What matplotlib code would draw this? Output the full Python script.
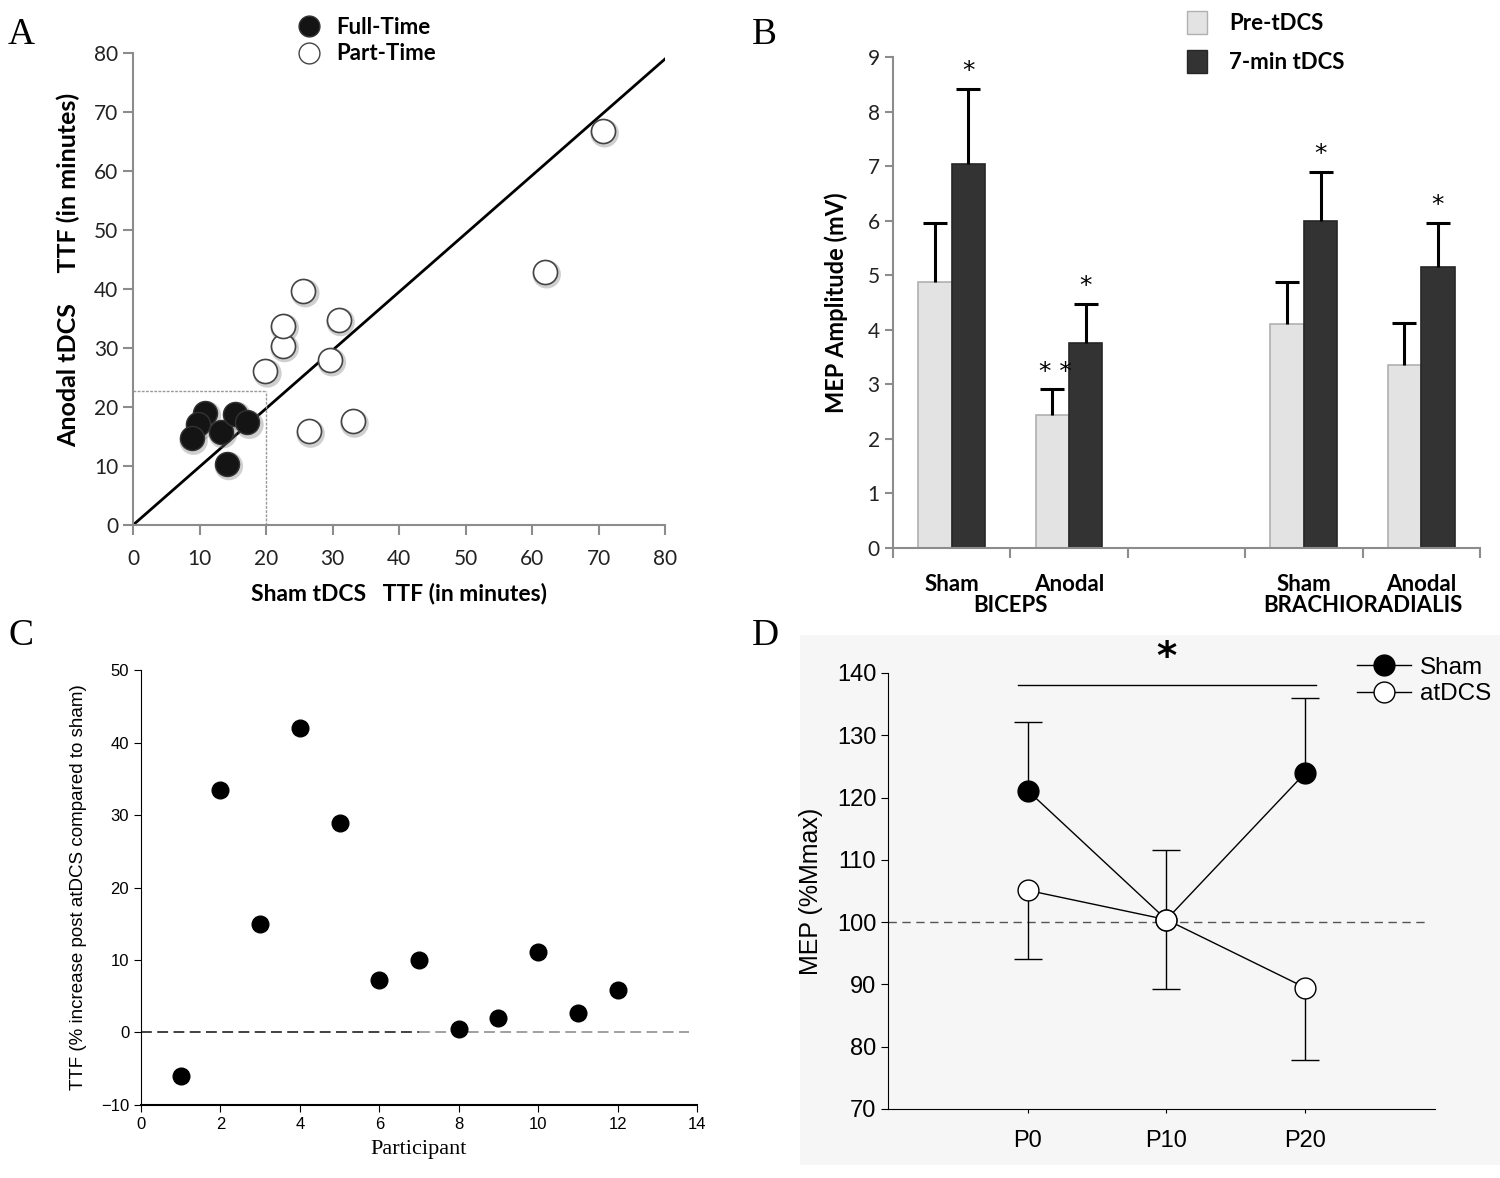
import matplotlib.pyplot as plt
import numpy as np
from matplotlib import font_manager
from matplotlib.lines import Line2D
from matplotlib.patches import Patch, Rectangle

names = {f.name for f in font_manager.fontManager.ttflist}
narrow = 'Liberation Sans Narrow' if 'Liberation Sans Narrow' in names else 'Liberation Sans'
calib = 'Lato'
serif = 'Liberation Serif'

# Panel A data: TTF (minutes), sham vs anodal
full_sham = [10.8, 9.7, 8.8, 13.2, 15.3, 17.2, 14.1]
full_anodal = [19.0, 17.1, 14.7, 15.8, 18.9, 17.4, 10.4]
part_sham = [19.9, 22.5, 22.5, 25.6, 29.6, 30.9, 26.4, 33.0, 61.9, 70.6]
part_anodal = [26.1, 30.4, 33.8, 39.7, 28.0, 34.8, 15.9, 17.6, 42.9, 66.8]

# Panel B data: MEP amplitude (mV)
b_cats = ['Sham', 'Anodal', '', 'Sham', 'Anodal']
b_groups = ['BICEPS', 'BRACHIORADIALIS']
pre_vals = [4.88, 2.43, np.nan, 4.11, 3.35]
pre_err = [1.08, 0.49, np.nan, 0.76, 0.77]
post_vals = [7.04, 3.76, np.nan, 5.99, 5.16]
post_err = [1.38, 0.72, np.nan, 0.91, 0.80]

# Panel C data: % increase in TTF per participant
participants = np.arange(1, 13)
ttf_increase = [-6.0, 33.5, 15.0, 42.0, 28.9, 7.3, 10.0, 0.5, 2.0, 11.1, 2.7, 5.9]

# Panel D data: MEP (%Mmax)
d_times = ['P0', 'P10', 'P20']
sham_mep = [121.1, 100.4, 123.9]
sham_err = [11.1, 11.1, 12.1]
atdcs_mep = [105.1, 100.4, 89.5]
atdcs_err = [11.1, 11.1, 11.6]


def one_sided(ax, xs, ys, errs, up=True, lw=2, cap=16, z=3):
    # error bar drawn only on one side, cap only at the far end
    for xi, yi, ei in zip(xs, ys, errs):
        if np.isnan(yi):
            continue
        end = yi + ei if up else yi - ei
        ax.plot([xi, xi], [yi, end], color='black', lw=lw, zorder=z, solid_capstyle='butt')
        ax.plot([xi], [end], marker='_', ms=cap, mew=lw, color='black', zorder=z)


fig = plt.figure(figsize=(15, 11.78), dpi=100)

# light background behind panel D
fig.patches.append(Rectangle((800 / 1500, 1 - 1165 / 1178), 700 / 1500, 530 / 1178,
                             transform=fig.transFigure, facecolor='#f6f6f6',
                             edgecolor='none', zorder=-5))

# ---------------- Panel A ----------------
axA = fig.add_axes([0.0887, 0.5543, 0.3547, 0.4007])
grey = '#8c8c8c'
axA.plot([0, 80], [0, 79], color='black', lw=2, zorder=2)
axA.plot([20, 20], [0, 22.7], color='#999999', lw=1, ls=(0, (2, 1)))
axA.plot([0, 20], [22.7, 22.7], color='#999999', lw=1, ls=(0, (2, 1)))
# soft shadows
axA.scatter(np.array(full_sham) + 0.3, np.array(full_anodal) - 0.4, s=420, color='#777777',
            alpha=0.35, edgecolors='none', zorder=3)
axA.scatter(np.array(part_sham) + 0.3, np.array(part_anodal) - 0.4, s=420, color='#777777',
            alpha=0.35, edgecolors='none', zorder=3)
axA.scatter(full_sham, full_anodal, s=300, color='#141414', edgecolors='#333333', zorder=4)
axA.scatter(part_sham, part_anodal, s=300, color='white', edgecolors='#444444', lw=1.2, zorder=4)
axA.set_xlim(0, 80)
axA.set_ylim(0, 80)
axA.set_xticks(range(0, 81, 10))
axA.set_yticks(range(0, 81, 10))
for s in ['top', 'right']:
    axA.spines[s].set_visible(False)
for s in ['left', 'bottom']:
    axA.spines[s].set_color(grey)
    axA.spines[s].set_linewidth(1.5)
axA.tick_params(colors=grey, labelcolor='#222222', labelsize=15, length=7, width=1.5)
axA.tick_params(axis='x', pad=10)
for t in axA.get_xticklabels() + axA.get_yticklabels():
    t.set_fontfamily(calib)
axA.set_xlabel('Sham tDCS   TTF (in minutes)', fontsize=16.5, fontweight='bold',
               family=calib, labelpad=10)
axA.set_ylabel('Anodal tDCS     TTF (in minutes)', fontsize=18, fontweight='bold',
               family=calib)
axA.yaxis.set_label_coords(-0.1, 0.54)
hA = [Line2D([], [], marker='o', ls='none', ms=15, mfc='#141414', mec='#333333'),
      Line2D([], [], marker='o', ls='none', ms=15, mfc='white', mec='#444444')]
fig.legend(hA, ['Full-Time', 'Part-Time'], loc='upper left', bbox_to_anchor=(0.181, 0.999),
           frameon=False, prop={'family': calib, 'weight': 'bold', 'size': 16},
           handletextpad=0.2, labelspacing=0.25, borderpad=0.2)

# ---------------- Panel B ----------------
axB = fig.add_axes([0.5953, 0.5348, 0.3913, 0.4168])
x = np.arange(len(b_cats))
w = 0.285
light = '#e3e3e3'
dark = '#333333'
axB.bar(x - w / 2, pre_vals, w, color=light, edgecolor='#b0b0b0', lw=1.2, zorder=2)
axB.bar(x + w / 2, post_vals, w, color=dark, edgecolor='#262626', lw=1.2, zorder=2)
one_sided(axB, x - w / 2, pre_vals, pre_err, up=True, lw=2.2, cap=17)
one_sided(axB, x + w / 2, post_vals, post_err, up=True, lw=2.2, cap=17)
for i in range(len(b_cats)):
    if not np.isnan(post_vals[i]):
        axB.text(x[i] + w / 2, post_vals[i] + post_err[i] + 0.1, '*', ha='center', va='bottom',
                 fontsize=18, family='DejaVu Sans')
axB.text(x[1] - w / 2 + 0.03, pre_vals[1] + pre_err[1] + 0.08, '* *', ha='center', va='bottom',
         fontsize=18, family='DejaVu Sans')
axB.set_xlim(-0.5, 4.5)
axB.set_ylim(0, 9)
axB.set_yticks(range(0, 10))
axB.set_xticks(np.arange(-0.5, 4.6, 1))
axB.set_xticklabels([])
axB.set_xticks(x, minor=True)
axB.set_xticklabels(b_cats, minor=True)
axB.tick_params(axis='x', which='minor', length=0, pad=19, labelsize=16)
axB.tick_params(axis='x', which='major', length=7, width=1.5, colors=grey)
axB.tick_params(axis='y', length=6, width=1.5, colors=grey, labelcolor='#222222', labelsize=15)
for t in axB.get_xticklabels(minor=True):
    t.set_fontfamily(calib)
    t.set_fontweight('bold')
for t in axB.get_yticklabels():
    t.set_fontfamily(calib)
for s in ['top', 'right']:
    axB.spines[s].set_visible(False)
for s in ['left', 'bottom']:
    axB.spines[s].set_color(grey)
    axB.spines[s].set_linewidth(1.5)
for gx, g in zip([0.5, 3.5], b_groups):
    axB.text(gx, -1.06, g, ha='center', va='center', fontsize=16, fontweight='bold',
             family=calib, clip_on=False)
axB.set_ylabel('MEP Amplitude (mV)', fontsize=17, fontweight='bold', family=calib, labelpad=14)
hB = [Patch(facecolor=light, edgecolor='#b0b0b0'), Patch(facecolor=dark, edgecolor='#262626')]
fig.legend(hB, ['Pre-tDCS', '7-min tDCS'], loc='upper left', bbox_to_anchor=(0.781, 1.004),
           frameon=False, prop={'family': calib, 'weight': 'bold', 'size': 16},
           handlelength=0.9, handleheight=1.2, handletextpad=1.0, labelspacing=0.75, borderpad=0.2)

# ---------------- Panel C ----------------
axC = fig.add_axes([0.094, 0.062, 0.3707, 0.3692])
axC.plot([0, 7], [0, 0], color='#333333', lw=1.3, ls=(0, (6, 3)))
axC.plot([7, 13.8], [0, 0], color='#999999', lw=1.3, ls=(0, (6, 3)))
axC.plot(participants, ttf_increase, 'o', color='black', ms=12)
axC.set_xlim(0, 14)
axC.set_ylim(-10, 50)
axC.set_xticks(range(0, 15, 2))
axC.set_yticks(range(-10, 51, 10))
for s in ['top', 'right']:
    axC.spines[s].set_visible(False)
axC.spines['bottom'].set_linewidth(1.5)
axC.tick_params(labelsize=12, length=5, direction='out')
for t in axC.get_xticklabels() + axC.get_yticklabels():
    t.set_fontfamily(narrow)
axC.set_xlabel('Participant', fontsize=16, family=serif, labelpad=6)
axC.set_ylabel('TTF (% increase post atDCS compared to sham)', fontsize=13.5,
               family='Liberation Sans', labelpad=10)

# ---------------- Panel D ----------------
axD = fig.add_axes([0.592, 0.0586, 0.3647, 0.3701])
axD.set_facecolor('none')
xd = np.arange(len(d_times))
axD.axhline(100, xmax=0.985, color='#555555', lw=1, ls=(0, (6, 4)), zorder=1)
one_sided(axD, xd, sham_mep, sham_err, up=True, lw=1, cap=20, z=2)
one_sided(axD, xd, atdcs_mep, atdcs_err, up=False, lw=1, cap=20, z=2)
axD.plot(xd, sham_mep, '-o', color='black', lw=1, ms=15, mfc='black', mec='black',
         label='Sham', zorder=3)
axD.plot(xd, atdcs_mep, '-o', color='black', lw=1, ms=15, mfc='white', mec='black',
         label='atDCS', zorder=4)
axD.plot([-0.07, 2.08], [138, 138], color='black', lw=1, clip_on=False)
axD.text(1, 139.3, '*', ha='center', va='bottom', fontsize=28, fontweight='bold',
         family='DejaVu Sans', clip_on=False)
axD.set_xlim(-1.01, 2.94)
axD.set_ylim(70, 140)
axD.set_xticks(xd)
axD.set_xticklabels(d_times)
axD.set_yticks(range(70, 141, 10))
for s in ['top', 'right']:
    axD.spines[s].set_visible(False)
axD.tick_params(axis='y', labelsize=17, length=5)
axD.tick_params(axis='x', labelsize=17, length=3, pad=12)
for t in axD.get_xticklabels() + axD.get_yticklabels():
    t.set_fontfamily(narrow)
axD.set_ylabel('MEP (%Mmax)', fontsize=18, family='Liberation Sans', labelpad=10)
fig.legend(loc='upper left', bbox_to_anchor=(0.895, 0.455), frameon=False,
           prop={'family': narrow, 'size': 17.5}, handlelength=2.2, handletextpad=0.4,
           labelspacing=0.2, borderpad=0.1)

# panel letters
for lx, ly, lab in [(8, 35, 'A'), (752, 35, 'B'), (8, 636, 'C'), (752, 636, 'D')]:
    fig.text(lx / 1500, 1 - ly / 1178, lab, fontsize=27, family=serif, va='center', ha='left')

fig.savefig('out.png', dpi=100)
